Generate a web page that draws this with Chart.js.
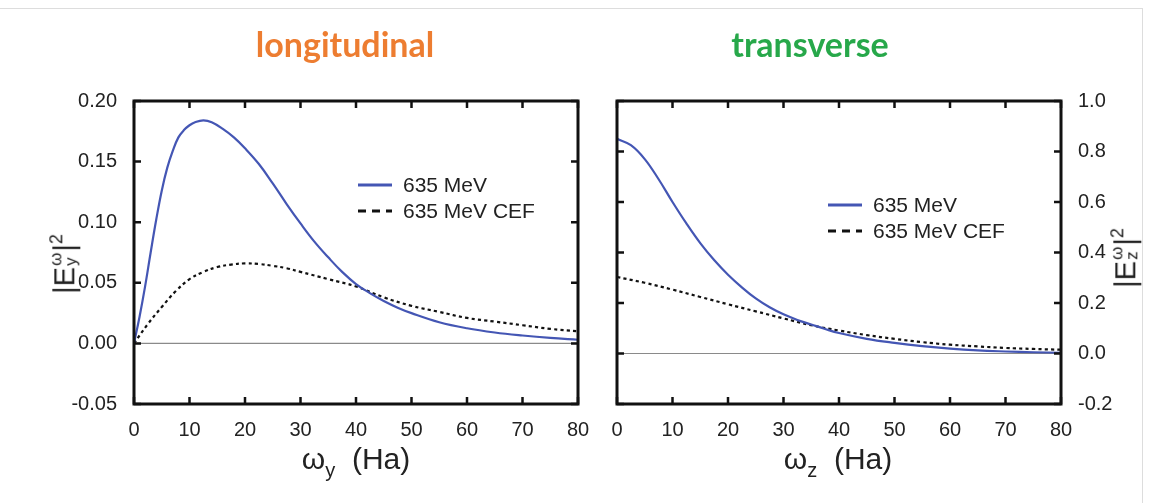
<!DOCTYPE html>
<html>
<head>
<meta charset="utf-8">
<script src="https://cdn.jsdelivr.net/npm/chart.js@4.4.1/dist/chart.umd.min.js"></script>
<style>
  html, body { margin: 0; padding: 0; background: #fff; }
  body { width: 1154px; height: 503px; position: relative; overflow: hidden; font-family: "Liberation Sans", Arial, sans-serif; color: #222; }
  .frame { position: absolute; left: -2px; top: 8px; width: 1144px; height: 500px; border-top: 1px solid #ddd; border-right: 1px solid #ddd; }
  canvas { position: absolute; top: 0; }
  #cvL { left: 0; }
  #cvR { left: 600px; }
  .title { position: absolute; top: 23px; font-family: Lato, "Open Sans", sans-serif; font-weight: 700; font-size: 34px; transform: translateX(-50%); white-space: nowrap; }
  .axt { position: absolute; font-size: 30px; white-space: nowrap; line-height: 1; }
  .xt { transform: translateX(-50%); }
  .yt { transform: translate(-50%, -50%) rotate(-90deg); font-size: 29px; }
  .stack { display: inline-flex; flex-direction: column; vertical-align: middle; font-size: 17px; line-height: 15px; margin: 0 1px; position: relative; top: -3px; }
  .sub { font-size: 20px; position: relative; top: 8px; }
  .sup { font-size: 18px; position: relative; top: -12px; }
</style>
</head>
<body>
<div class="frame"></div>
<canvas id="cvL" width="600" height="503"></canvas>
<canvas id="cvR" width="554" height="503"></canvas>

<div class="title" style="left:345px; color:#ed7d31;">longitudinal</div>
<div class="title" style="left:810px; color:#27a84a;">transverse</div>

<div class="axt xt" style="left:356px; top:444px;">ω<span class="sub">y</span>&nbsp; (Ha)</div>
<div class="axt xt" style="left:838px; top:444px;">ω<span class="sub">z</span>&nbsp; (Ha)</div>
<div class="axt yt" style="left:66px; top:264px;">|E<span class="stack"><span>ω</span><span>y</span></span>|<span class="sup">2</span></div>
<div class="axt yt" style="left:1127px; top:258px;">|E<span class="stack"><span>ω</span><span>z</span></span>|<span class="sup">2</span></div>

<script>
// series names
const seriesNames = ['635 MeV', '635 MeV CEF'];

// longitudinal panel: frequency (Ha) vs |E_y|^2
const longX    = [0, 1, 2, 3, 4, 5, 6, 7, 8, 9, 10, 11, 12.5, 14, 16, 18, 20, 22.5, 25, 27.5, 30, 32.5, 35, 37.5, 40, 42.5, 45, 47.5, 50, 55, 60, 65, 70, 75, 80];
const longFull = [0, 0.022, 0.047, 0.075, 0.102, 0.126, 0.145, 0.159, 0.170, 0.176, 0.180, 0.1825, 0.184, 0.1825, 0.177, 0.170, 0.161, 0.148, 0.132, 0.115, 0.099, 0.084, 0.071, 0.059, 0.049, 0.0415, 0.035, 0.0295, 0.025, 0.0175, 0.0125, 0.009, 0.0065, 0.0045, 0.003];
const longCefX = [0, 2.5, 5, 7.5, 10, 12.5, 15, 17.5, 20, 22.5, 25, 27.5, 30, 35, 40, 45, 50, 55, 60, 65, 70, 75, 80];
const longCef  = [0, 0.016, 0.030, 0.043, 0.053, 0.059, 0.063, 0.065, 0.066, 0.0655, 0.064, 0.062, 0.059, 0.053, 0.047, 0.038, 0.031, 0.026, 0.021, 0.018, 0.015, 0.012, 0.010];

// transverse panel: frequency (Ha) vs |E_z|^2
const transX    = [0, 2.5, 5, 7.5, 10, 12.5, 15, 17.5, 20, 22.5, 25, 27.5, 30, 32.5, 35, 37.5, 40, 45, 50, 55, 60, 65, 70, 75, 80];
const transFull = [0.85, 0.825, 0.77, 0.69, 0.60, 0.515, 0.437, 0.370, 0.312, 0.262, 0.218, 0.183, 0.155, 0.133, 0.115, 0.097, 0.081, 0.058, 0.042, 0.029, 0.019, 0.012, 0.008, 0.005, 0.003];
const transCefX = [0, 5, 10, 15, 20, 25, 30, 35, 40, 45, 50, 55, 60, 65, 70, 75, 80];
const transCef  = [0.303, 0.28, 0.253, 0.224, 0.195, 0.167, 0.139, 0.112, 0.091, 0.073, 0.058, 0.045, 0.035, 0.028, 0.022, 0.018, 0.015];

// tick settings
const xTicks = { min: 0, max: 80, step: 10 };
const yTicksLong  = { min: -0.05, max: 0.20, step: 0.05, digits: 2 };
const yTicksTrans = { min: -0.2, max: 1.0, step: 0.2, digits: 1 };

const BLUE = '#4456b4';
const tickFont = { family: '"Liberation Sans", Arial, sans-serif', size: 20 };

const pts = (xs, ys) => xs.map((x, i) => ({ x: x, y: ys[i] }));

// tick text, no "-0.0" from float noise
const fmt = (v, d) => {
  const s = Number(v).toFixed(d);
  return Math.abs(v) < 1e-9 ? (0).toFixed(d) : s;
};

// gnuplot-like box with inward ticks, zero line and key
const framePlugin = {
  id: 'frame',
  beforeDatasetsDraw(chart) {
    const { ctx, chartArea: a, scales } = chart;
    const y0 = scales.y.getPixelForValue(0);
    ctx.save();
    ctx.strokeStyle = '#8a8a8a';
    ctx.lineWidth = 1.2;
    ctx.beginPath();
    ctx.moveTo(a.left, y0);
    ctx.lineTo(a.right, y0);
    ctx.stroke();
    ctx.restore();
  },
  afterDraw(chart, args, opts) {
    const { ctx, chartArea: a, scales } = chart;
    const tl = 7;
    ctx.save();
    ctx.strokeStyle = '#111';
    ctx.lineWidth = 2.5;
    scales.x.ticks.forEach(t => {
      const px = scales.x.getPixelForValue(t.value);
      ctx.beginPath();
      ctx.moveTo(px, a.bottom); ctx.lineTo(px, a.bottom - tl);
      ctx.moveTo(px, a.top); ctx.lineTo(px, a.top + tl);
      ctx.stroke();
    });
    scales.y.ticks.forEach(t => {
      const py = scales.y.getPixelForValue(t.value);
      ctx.beginPath();
      ctx.moveTo(a.left, py); ctx.lineTo(a.left + tl, py);
      ctx.moveTo(a.right, py); ctx.lineTo(a.right - tl, py);
      ctx.stroke();
    });
    ctx.lineWidth = 3;
    ctx.strokeRect(a.left, a.top, a.right - a.left, a.bottom - a.top);

    // key
    const k = opts.key;
    ctx.font = '21px "Liberation Sans", Arial, sans-serif';
    ctx.textBaseline = 'middle';
    ctx.fillStyle = '#222';
    chart.data.datasets.forEach((ds, i) => {
      const ly = k.y + i * 26;
      ctx.beginPath();
      ctx.strokeStyle = ds.borderColor;
      ctx.lineWidth = 3;
      ctx.setLineDash(ds.borderDash && ds.borderDash.length ? [8, 6] : []);
      ctx.moveTo(k.x, ly);
      ctx.lineTo(k.x + 34, ly);
      ctx.stroke();
      ctx.setLineDash([]);
      ctx.fillText(ds.label, k.x + 45, ly + 1);
    });
    ctx.restore();
  }
};

function makeChart(id, full, cef, yt, yPos, pad, yWidth, key) {
  return new Chart(document.getElementById(id), {
    type: 'scatter',
    data: {
      datasets: [
        { label: seriesNames[0], data: full, borderColor: BLUE, borderWidth: 2.2 },
        { label: seriesNames[1], data: cef, borderColor: '#111', borderWidth: 2.2, borderDash: [3.2, 3.2] }
      ]
    },
    options: {
      responsive: false,
      animation: false,
      showLine: true,
      layout: { padding: pad },
      elements: {
        point: { radius: 0 },
        line: { tension: 0.4, fill: false }
      },
      plugins: { legend: { display: false }, tooltip: { enabled: false }, frame: { key: key } },
      scales: {
        x: {
          type: 'linear', min: xTicks.min, max: xTicks.max,
          grid: { display: false, drawTicks: false },
          border: { display: false },
          ticks: { stepSize: xTicks.step, font: tickFont, color: '#222', padding: 14, maxRotation: 0 },
          afterFit: s => { s.height = 99; s.paddingLeft = 0; s.paddingRight = 0; }
        },
        y: {
          type: 'linear', position: yPos, min: yt.min, max: yt.max,
          grid: { display: false, drawTicks: false },
          border: { display: false },
          ticks: {
            stepSize: yt.step, font: tickFont, color: '#222', padding: 17,
            callback: v => fmt(v, yt.digits)
          },
          afterFit: s => { s.width = yWidth; s.paddingTop = 0; s.paddingBottom = 0; }
        }
      }
    },
    plugins: [framePlugin]
  });
}

makeChart('cvL', pts(longX, longFull), pts(longCefX, longCef), yTicksLong, 'left',
  { top: 101, right: 22, left: 0, bottom: 0 }, 134, { x: 358, y: 185 });
makeChart('cvR', pts(transX, transFull), pts(transCefX, transCef), yTicksTrans, 'right',
  { top: 101, right: 0, left: 17, bottom: 0 }, 93, { x: 228, y: 205 });
</script>
</body>
</html>
